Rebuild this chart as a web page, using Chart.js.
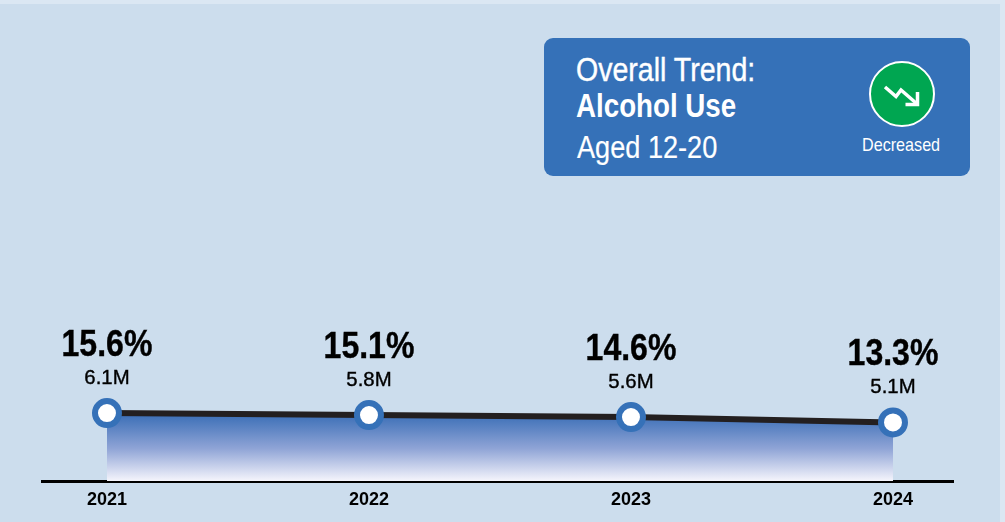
<!DOCTYPE html>
<html lang="en">
<head>
<meta charset="UTF-8">
<title>Overall Trend: Alcohol Use</title>
<script src="https://cdn.jsdelivr.net/npm/chart.js"></script>
<style>
  html, body { margin: 0; padding: 0; }
  body { width: 1005px; height: 522px; overflow: hidden; position: relative; background: #ccdded; font-family: "Liberation Sans", sans-serif; }
  #topEdge { position: absolute; left: 0; top: 0; width: 1005px; height: 4px; background: #dbe7f3; }
  #rightEdge { position: absolute; left: 1000px; top: 0; width: 5px; height: 522px; background: #dbe7f3; }
  canvas { position: absolute; left: 0; top: 0; }
  #panel { position: absolute; left: 544px; top: 38px; width: 426px; height: 138px; background: #3571b8; border-radius: 9px; color: #fff; }
  /* the original type is condensed, so squeeze it sideways */
  #panel span { position: absolute; white-space: nowrap; line-height: 1; transform-origin: left center; }
  #t1 { left: 32px; top: 15px; font-size: 33px; transform: scaleX(0.865); -webkit-text-stroke: 0.4px #fff; }
  #t2 { left: 32px; top: 51px; font-size: 33px; font-weight: bold; transform: scaleX(0.84); }
  #t3 { left: 33px; top: 94px; font-size: 31px; transform: scaleX(0.875); -webkit-text-stroke: 0.2px #fff; }
  #t4 { left: 318px; top: 97px; font-size: 19px; transform: scaleX(0.85); }
  #icon { position: absolute; left: 325px; top: 23px; }
</style>
</head>
<body>
  <div id="topEdge"></div>
  <div id="rightEdge"></div>
  <canvas id="trendChart" width="1005" height="522"></canvas>
  <div id="panel">
    <span id="t1">Overall Trend:</span>
    <span id="t2">Alcohol Use</span>
    <span id="t3">Aged 12-20</span>
    <svg id="icon" width="66" height="66" viewBox="0 0 66 66">
      <circle cx="33" cy="33" r="32" fill="#00a651" stroke="#fff" stroke-width="2"/>
      <path d="M16 26 L27 35.5 L32 29 L47 42" fill="none" stroke="#fff" stroke-width="3.5"/>
      <path d="M48.5 31 V43.5 H36.5" fill="none" stroke="#fff" stroke-width="3.5"/>
    </svg>
    <span id="t4">Decreased</span>
  </div>

  <script>
    const years = [2021, 2022, 2023, 2024];
    const percentValues = [15.6, 15.1, 14.6, 13.3];
    const peopleLabels = ['6.1M', '5.8M', '5.6M', '5.1M'];

    // draw text squeezed sideways, centred on x
    function squeezedText(c, text, x, y, sx, stroke) {
      c.save();
      c.translate(x, y);
      c.scale(sx, 1);
      c.fillText(text, 0, 0);
      if (stroke) {
        c.lineWidth = stroke;
        c.strokeStyle = c.fillStyle;
        c.strokeText(text, 0, 0);
      }
      c.restore();
    }

    // labels above each point
    const pointLabels = {
      id: 'pointLabels',
      afterDatasetsDraw(chart) {
        const c = chart.ctx;
        const pts = chart.getDatasetMeta(0).data;
        c.save();
        c.fillStyle = '#000';
        c.textAlign = 'center';
        c.textBaseline = 'alphabetic';
        pts.forEach((p, i) => {
          c.font = 'bold 36px "Liberation Sans", sans-serif';
          squeezedText(c, percentValues[i].toFixed(1) + '%', p.x, p.y - 57, 0.89, 0.4);
          c.font = '21px "Liberation Sans", sans-serif';
          squeezedText(c, peopleLabels[i], p.x, p.y - 29, 0.97, 0.4);
        });
        c.restore();
      }
    };

    const ctx = document.getElementById('trendChart').getContext('2d');

    new Chart(ctx, {
      type: 'line',
      data: {
        datasets: [{
          data: years.map((y, i) => ({ x: y, y: percentValues[i] })),
          borderColor: '#231f20',
          borderWidth: 6,
          tension: 0,
          clip: false,
          fill: 'start',
          backgroundColor(context) {
            const area = context.chart.chartArea;
            if (!area) return '#4a76ba';
            const g = context.chart.ctx.createLinearGradient(0, 416, 0, area.bottom);
            g.addColorStop(0, '#3f71b8');
            g.addColorStop(0.5, '#8fa4d6');
            g.addColorStop(1, '#f5f5fc');
            return g;
          },
          pointRadius: 12,
          pointHoverRadius: 12,
          pointBorderWidth: 6,
          pointBorderColor: '#3571b8',
          pointBackgroundColor: '#fff'
        }]
      },
      options: {
        responsive: false,
        animation: false,
        layout: { padding: { left: 42, right: 52, top: 395, bottom: 0 } },
        plugins: { legend: { display: false }, tooltip: { enabled: false } },
        scales: {
          x: {
            type: 'linear',
            min: 2020.752,
            max: 2024.229,
            afterFit(scale) { scale.height = 41; },
            grid: { display: false, drawTicks: false },
            border: { color: '#000', width: 3 },
            ticks: {
              stepSize: 1,
              includeBounds: false,
              maxRotation: 0,
              padding: 8,
              color: '#000',
              font: { family: '"Liberation Sans", sans-serif', size: 18, weight: 'bold' },
              callback: v => String(v)
            }
          },
          y: {
            display: false,
            min: -1,
            max: 20
          }
        }
      },
      plugins: [pointLabels]
    });
  </script>
</body>
</html>
